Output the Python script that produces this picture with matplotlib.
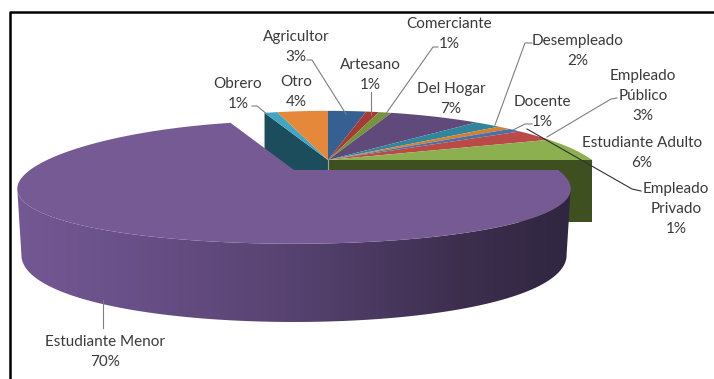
import numpy as np
import matplotlib
matplotlib.use('Agg')
import matplotlib.pyplot as plt
from matplotlib.colors import LinearSegmentedColormap
from matplotlib.patches import Polygon

categories = ['Agricultor', 'Artesano', 'Comerciante', 'Del Hogar', 'Desempleado', 'Docente',
              'Empleado\nPrivado', 'Empleado\nPúblico', 'Estudiante Adulto', 'Estudiante Menor',
              'Obrero', 'Otro']
values = [3, 1, 1, 7, 2, 1, 1, 3, 6, 70, 1, 4]
colors = ['#376092', '#a83a36', '#77933c', '#604a7b', '#31859c', '#d5802f',
          '#4672a8', '#b94a48', '#8cb04f', '#755a94', '#3fa7c4', '#e6883a']

# label block centres in pixels
label_pos = [(296, 47), (370, 75), (449, 34), (451, 99), (578, 51), (542, 112),
             (676, 209), (643, 96), (642, 153), (105, 352), (238, 94), (296, 92)]
leaders = [
    [(307, 60), (312, 60), (346, 114)],
    [(371, 92), (371, 115)],
    [(438, 47), (433, 47), (385, 115)],
    [(532, 43), (525, 43), (495, 125)],
    [(532, 124), (525, 124), (513, 130)],
    [(617, 98), (611, 99), (547, 137)],
    [(641, 191), (632, 189), (527, 129)],
    [(103, 300), (103, 328)],
    [(252, 106), (257, 106), (268, 115)],
]
leader_colors = ['#7f7f7f'] * 6 + ['#303030'] + ['#7f7f7f'] * 2

RADIUS = 264
RADIUS_Y = 59
PERSP_X = 0.3
PERSP_Y = 0.2
CENTER = (328, 160)
MAIN_CENTER = (294, 170)
DEPTH = 62
RIM_Y = 1.22  # bottom rim opens wider than the top face


def project(theta, center, scale=1.0, drop=0, yscale=1.0):
    # disc seen in perspective, back half is squeezed
    s = np.sin(theta)
    x = center[0] + scale * RADIUS * np.cos(theta) / (1 + PERSP_X * s)
    y = center[1] - yscale * RADIUS_Y * s / (1 + PERSP_Y * s) + drop
    return np.column_stack([x, y])


def wedge(t0, t1, center):
    arc = project(np.linspace(t0, t1, 200), center)
    return np.vstack([center, arc])


fig = plt.figure(figsize=(7.14, 3.79), dpi=100)
ax = fig.add_axes([0, 0, 1, 1])
ax.axis('off')
plt.rcParams['font.family'] = ['Lato', 'DejaVu Sans']

# clockwise from twelve o'clock
edges = np.pi / 2 - 2 * np.pi * np.cumsum([0] + values) / sum(values)
main = categories.index('Estudiante Menor')
obrero = categories.index('Obrero')

# frame
ax.plot([10, 10, 714], [379, 12, 12], color='black', lw=1.8, zorder=9)

# cut walls of the small slices, the big slice hides most of them
corner = project(np.array([edges[obrero]]), CENTER)[0]
ax.add_patch(Polygon([CENTER, corner, corner + (0, DEPTH), np.array(CENTER) + (0, DEPTH)],
                     fc='#1c4d5c', ec='none', zorder=1))
right = project(np.array([edges[main]]), CENTER)[0]
ax.add_patch(Polygon([CENTER, right, right + (0, DEPTH), np.array(CENTER) + (0, DEPTH)],
                     fc='#3f5020', ec='none', zorder=1))
ax.plot([CENTER[0], CENTER[0]], [CENTER[1], MAIN_CENTER[1]], color='#a0a0a0', lw=0.8, zorder=2)

for i, c in enumerate(colors):
    if i == main:
        continue
    ax.add_patch(Polygon(wedge(edges[i], edges[i + 1], CENTER), fc=c, ec='none', zorder=2))

# side of the exploded slice, shaded left to right
t = np.linspace(-0.3, -np.pi + 0.3, 300)
side = np.vstack([project(t, MAIN_CENTER),
                  project(t[::-1], MAIN_CENTER, 0.985, DEPTH, RIM_Y)])
clip = Polygon(side, fc='none', ec='none', zorder=3)
ax.add_patch(clip)
shade = LinearSegmentedColormap.from_list(
    'shade', [(0, '#735894'), (0.2, '#6a5088'), (0.5, '#564270'), (0.8, '#3d2e4e'), (1, '#2f2640')])
img = ax.imshow(np.linspace(0, 1, 256)[None, :], cmap=shade, aspect='auto',
                extent=(15, 575, 330, 160), zorder=3)
img.set_clip_path(clip)

ax.add_patch(Polygon(wedge(edges[main], edges[main + 1], MAIN_CENTER),
                     fc=colors[main], ec='none', zorder=4))

for pts, c in zip(leaders, leader_colors):
    xs, ys = zip(*pts)
    ax.plot(xs, ys, color=c, lw=0.8, zorder=5)

for name, v, (x, y) in zip(categories, values, label_pos):
    ax.text(x, y, f'{name}\n{v}%', ha='center', va='center', fontsize=11,
            color='#3a3a3a', linespacing=1.55, zorder=6)

ax.set_xlim(0, 714)
ax.set_ylim(379, 0)
fig.savefig('out.png', dpi=100, facecolor='white')
